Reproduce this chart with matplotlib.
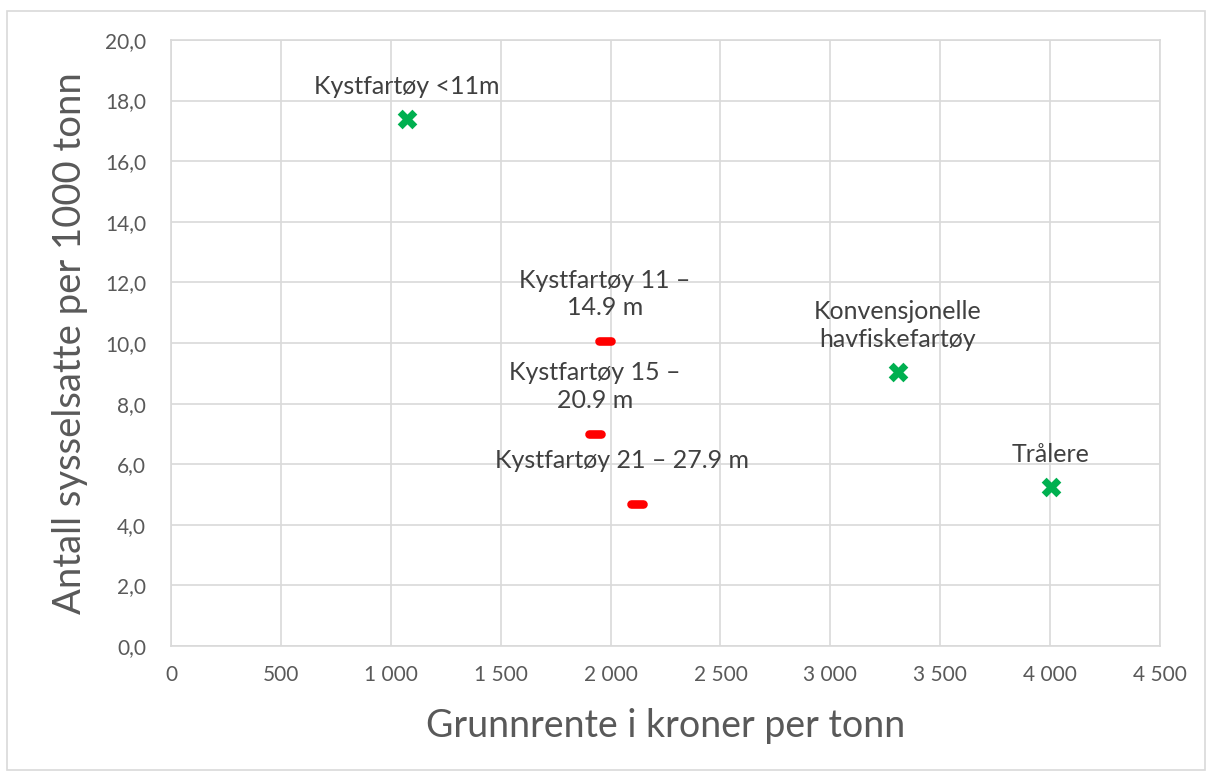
import matplotlib.pyplot as plt
from matplotlib.ticker import FuncFormatter
from matplotlib.patches import Rectangle
from matplotlib.markers import MarkerStyle

plt.rcParams['font.family'] = ['Lato', 'DejaVu Sans']

# Data
green_names = ['Kystfartøy <11m', 'Konvensjonelle\nhavfiskefartøy', 'Trålere']
green_x = [1074, 3308, 4004]
green_y = [17.4, 9.05, 5.25]

red_names = ['Kystfartøy 11 –\n14.9 m', 'Kystfartøy 15 –\n20.9 m', 'Kystfartøy 21 – 27.9 m']
red_x = [1975, 1929, 2120]
red_y = [10.05, 7.0, 4.7]

txt = '#404040'
fig = plt.figure(figsize=(12.12, 7.76), dpi=100)
fig.patches.append(Rectangle((0.006, 0.008), 0.988, 0.978, transform=fig.transFigure,
                             fill=False, edgecolor='#d9d9d9', linewidth=1.2))
ax = fig.add_axes([0.1411, 0.1675, 0.816, 0.781])

ax.scatter(green_x, green_y, marker='X', s=200, color='#00B050', zorder=3, linewidths=0)
ax.plot(red_x, red_y, linestyle='none', marker=MarkerStyle('_', capstyle='round'),
        markersize=9, markeredgewidth=6.2, color='#FF0000', zorder=3)

for name, x, y in zip(green_names, green_x, green_y):
    ax.annotate(name, (x, y), xytext=(0, 15), textcoords='offset points',
                ha='center', va='bottom', fontsize=18, color=txt, linespacing=1.25)
for name, x, y in zip(red_names, red_x, red_y):
    if '21' in name:
        off = (-11, 23)
    else:
        off = (0, 16)
    ax.annotate(name, (x, y), xytext=off, textcoords='offset points',
                ha='center', va='bottom', fontsize=18, color=txt, linespacing=1.25)

ax.set_xlim(0, 4500)
ax.set_ylim(0, 20)
ax.set_xticks(range(0, 4501, 500))
ax.set_yticks([i * 2 for i in range(11)])
ax.xaxis.set_major_formatter(FuncFormatter(lambda v, p: f'{int(v):,}'.replace(',', ' ')))
ax.yaxis.set_major_formatter(FuncFormatter(lambda v, p: f'{v:.1f}'.replace('.', ',')))
ax.tick_params(length=0, labelsize=15, colors='#595959')
ax.tick_params(axis='x', pad=14)
ax.tick_params(axis='y', pad=18)
ax.grid(True, color='#d9d9d9', linewidth=1.2)
ax.set_axisbelow(True)
for s in ax.spines.values():
    s.set_color('#d9d9d9')
    s.set_linewidth(1.2)

ax.set_xlabel('Grunnrente i kroner per tonn', fontsize=27, color='#595959', labelpad=16)
ax.set_ylabel('Antall sysselsatte per 1000 tonn', fontsize=27.5, color='#595959', labelpad=12)

plt.savefig('out.png', dpi=100)
